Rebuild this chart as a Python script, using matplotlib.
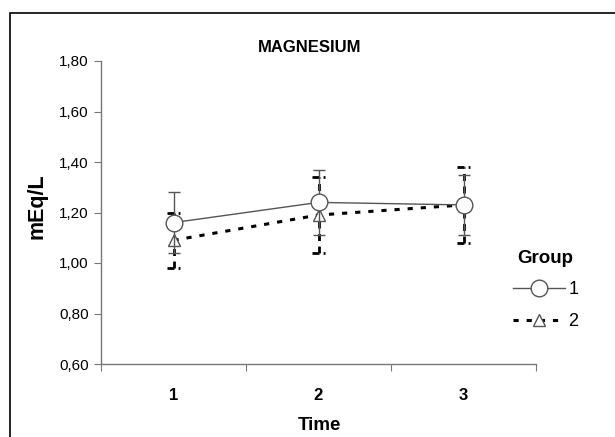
import numpy as np
import matplotlib.pyplot as plt
from matplotlib.patches import Rectangle

plt.rcParams['font.family'] = ['Liberation Sans', 'DejaVu Sans']

times = [1, 2, 3]
time_labels = ['1', '2', '3']
g1_mean = [1.16, 1.24, 1.23]
g1_err = [0.12, 0.13, 0.12]
g2_mean = [1.09, 1.19, 1.23]
g2_err = [0.11, 0.15, 0.15]
y_ticks = [0.60, 0.80, 1.00, 1.20, 1.40, 1.60, 1.80]

fig = plt.figure(figsize=(6.15, 4.37), dpi=100)
fig.patches.append(Rectangle((10 / 615, -0.1), 1.2, (437 - 13) / 437 + 0.1,
                             transform=fig.transFigure, fill=False,
                             edgecolor='black', linewidth=1.2))
ax = fig.add_axes([101 / 615, 73 / 437, 435 / 615, 303 / 437])

x = np.array(times)
cap = 0.045
dash = (0, (2.5, 1.5))

# group 2 (dashed) drawn first
eb = ax.errorbar(x, g2_mean, yerr=g2_err, fmt='none', ecolor='black',
                 elinewidth=2.0, capsize=0)
eb[2][0].set_linestyle((0, (2.5, 2.0)))
ax.hlines(np.array(g2_mean) + np.array(g2_err), x - cap, x + cap, colors='black',
          linewidth=2.0, linestyles=dash)
ax.hlines(np.array(g2_mean) - np.array(g2_err), x - cap, x + cap, colors='black',
          linewidth=2.0, linestyles=dash)
l2, = ax.plot(x, g2_mean, color='black', linewidth=2.2, linestyle=(0, (1.7, 2.6)),
              marker='^', markersize=9, markerfacecolor='white',
              markeredgecolor='#555555', markeredgewidth=1.0, label='2')

# group 1 (solid)
ax.errorbar(x, g1_mean, yerr=g1_err, fmt='none', ecolor='#555555',
            elinewidth=1.0, capsize=4, capthick=1.0)
l1, = ax.plot(x, g1_mean, color='#555555', linewidth=1.0, marker='o',
              markersize=12, markerfacecolor='white',
              markeredgecolor='#555555', markeredgewidth=1.0, label='1')

ax.set_xlim(0.5, 3.5)
ax.set_ylim(0.60, 1.80)
ax.set_yticks(y_ticks)
ax.set_yticklabels(['{:.2f}'.format(v).replace('.', ',') for v in y_ticks], fontsize=11)
ax.set_xticks([0.5, 1.5, 2.5, 3.5])
ax.set_xticklabels([])
ax.set_xticks(times, minor=True)
ax.set_xticklabels(time_labels, minor=True, fontsize=12, fontweight='bold')
ax.tick_params(axis='x', which='minor', length=0, pad=17)
ax.tick_params(axis='x', which='major', length=5, color='#777777')
ax.tick_params(axis='y', length=5, color='#777777', pad=4)
for s in ['top', 'right']:
    ax.spines[s].set_visible(False)
for s in ['left', 'bottom']:
    ax.spines[s].set_color('#777777')
    ax.spines[s].set_linewidth(1.0)

fig.text(0.5 + 2 / 615, 1 - 47 / 437, 'MAGNESIUM', ha='center', va='center',
         fontsize=12, fontweight='bold')
fig.text(37 / 615, 1 - 206 / 437, 'mEq/L', ha='center', va='center', rotation=90,
         fontsize=15.5, fontweight='bold')
fig.text(319 / 615, 1 - 425 / 437, 'Time', ha='center', va='center',
         fontsize=13.5, fontweight='bold')

leg = fig.legend(handles=[l1, l2], labels=['1', '2'], title='Group',
                 loc='center left', bbox_to_anchor=(500 / 615, 1 - 290 / 437),
                 frameon=False, handlelength=2.9, numpoints=1, fontsize=13,
                 title_fontproperties={'weight': 'bold', 'size': 13.5},
                 labelspacing=0.8, handletextpad=0.2, borderpad=0.2)

fig.savefig('out.png', dpi=100)
